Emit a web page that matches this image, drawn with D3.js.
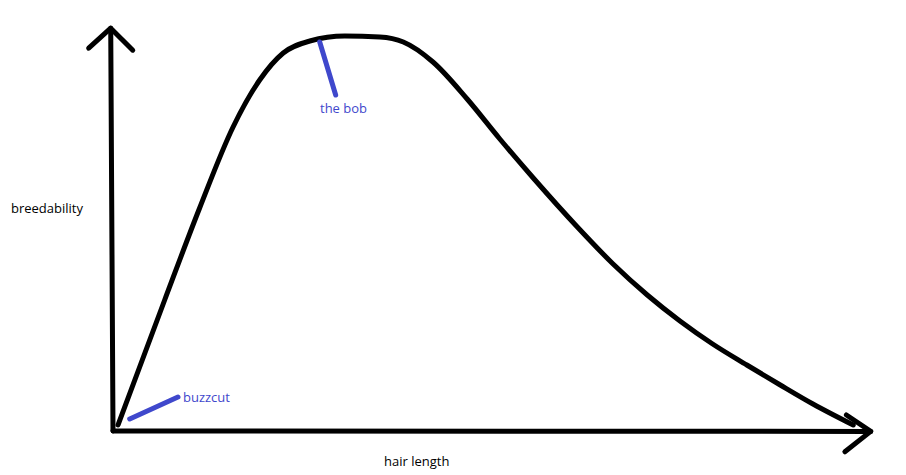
<!DOCTYPE html>
<html>
<head>
<meta charset="utf-8">
<script src="https://cdn.jsdelivr.net/npm/d3@7"></script>
<style>
html,body{margin:0;padding:0;background:#fff;}
svg{display:block;}
text{font-family:"Open Sans","Noto Sans",sans-serif;font-size:13px;}
</style>
</head>
<body>
<svg id="chart" width="906" height="475"></svg>
<script>
// hair length (0-100) vs breedability (0-100)
const hairLength = [0.66, 6.8, 11.4, 15.8, 19.3, 22.4, 25.9, 30.5, 35.1, 38.2, 42.1, 46.6, 50.9, 55.3, 61.1, 65.8, 70.3, 74.6, 78.9, 83.4, 87.8, 92.1, 97.4];
const breedability = [1.5, 32.75, 55.75, 76, 87.75, 94.5, 97.5, 98.75, 98.5, 97.25, 92.25, 83, 73, 63.25, 51, 41.75, 34, 27.5, 21.75, 16.5, 11.5, 6.75, 1.5];
const annotationLabels = ["buzzcut", "the bob"];
const annotationFrom = [[2.2, 3], [27.2, 97.25]];
const annotationTo = [[8.55, 8.5], [29.3, 84]];
const xAxisTitle = "hair length";
const yAxisTitle = "breedability";

const svg = d3.select("#chart");
const x = d3.scaleLinear().domain([0, 100]).range([113, 873]);
const y = d3.scaleLinear().domain([0, 100]).range([431, 31]);

const blue = "#3f48cc";

// axes (hand-drawn arrows)
const axes = svg.append("g").attr("fill", "none").attr("stroke", "#000")
  .attr("stroke-width", 5).attr("stroke-linecap", "round").attr("stroke-linejoin", "round");
// y axis
axes.append("line").attr("x1", x(0)).attr("y1", y(0)).attr("x2", x(-0.3)).attr("y2", y(100.7));
axes.append("path").attr("d", d3.line()([[x(-3.2), y(95.7)], [x(-0.3), y(100.7)], [x(2.6), y(95.2)]]));
// x axis
axes.append("line").attr("x1", x(0)).attr("y1", y(0)).attr("x2", x(99.7)).attr("y2", y(-0.1));
axes.append("path").attr("d", d3.line()([[x(96.5), y(4)], [x(99.7), y(-0.1)], [x(96.3), y(-5.2)]]));

// curve
const pts = hairLength.map((h, i) => [x(h), y(breedability[i])]);
svg.append("path")
  .attr("d", d3.line().curve(d3.curveMonotoneX)(pts))
  .attr("fill", "none").attr("stroke", "#000").attr("stroke-width", 5)
  .attr("stroke-linecap", "round").attr("stroke-linejoin", "round");

// annotations
annotationLabels.forEach((lab, i) => {
  svg.append("line")
    .attr("x1", x(annotationFrom[i][0])).attr("y1", y(annotationFrom[i][1]))
    .attr("x2", x(annotationTo[i][0])).attr("y2", y(annotationTo[i][1]))
    .attr("stroke", blue).attr("stroke-width", 5).attr("stroke-linecap", "round");
});
svg.append("text").attr("x", 183).attr("y", 402).attr("fill", blue).text(annotationLabels[0]);
svg.append("text").attr("x", 320).attr("y", 113).attr("fill", blue).text(annotationLabels[1]);

// axis titles
svg.append("text").attr("x", 11).attr("y", 213).attr("fill", "#000").text(yAxisTitle);
svg.append("text").attr("x", 384).attr("y", 466).attr("fill", "#000").text(xAxisTitle);
</script>
</body>
</html>
